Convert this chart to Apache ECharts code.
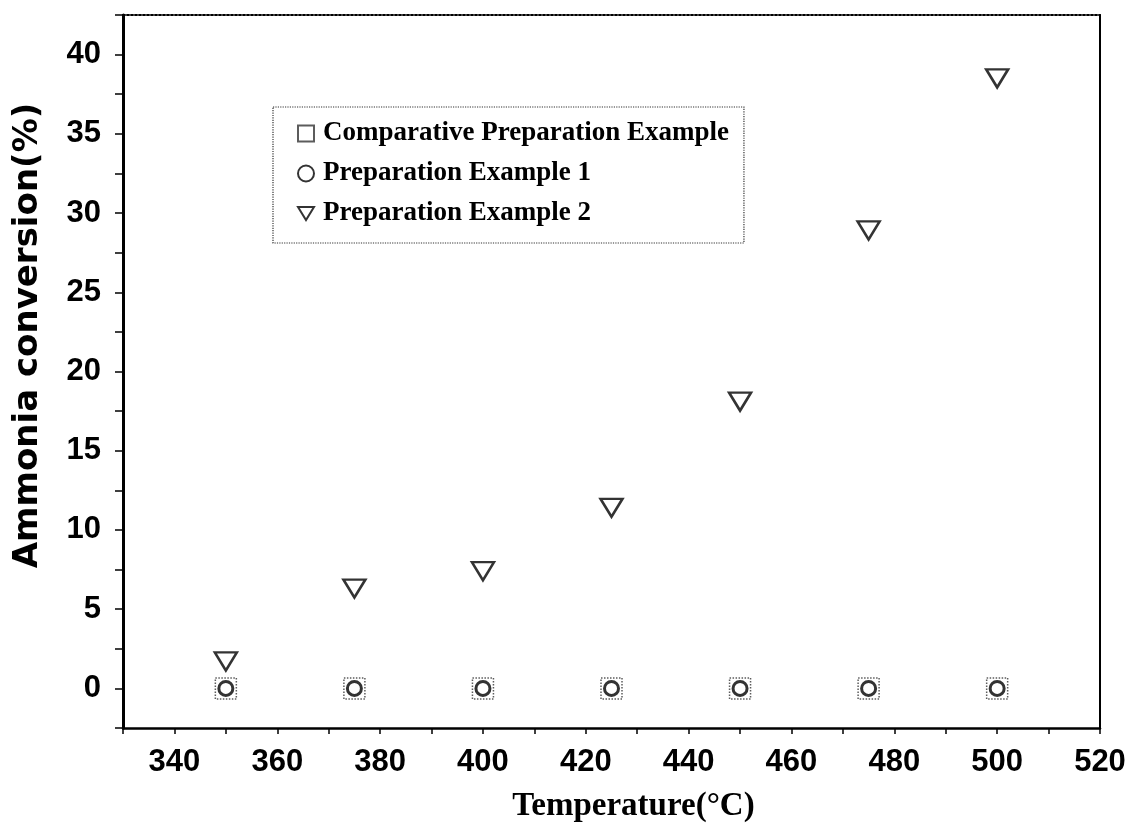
<!DOCTYPE html>
<html>
<head>
<meta charset="utf-8">
<script src="https://cdn.jsdelivr.net/npm/echarts@6/dist/echarts.min.js"></script>
<style>html,body{margin:0;padding:0;background:#fff;}#c{width:1132px;height:830px;}</style>
</head>
<body>
<div id="c"></div>
<script>
var temperatures = [350, 375, 400, 425, 450, 475, 500];
var comparative = [0, 0, 0, 0, 0, 0, 0];
var prep1 = [0, 0, 0, 0, 0, 0, 0];
var prep2 = [1.7, 6.3, 7.4, 11.4, 18.1, 28.9, 38.5];
var seriesNames = ['Comparative Preparation Example', 'Preparation Example 1', 'Preparation Example 2'];
var xLabelStep = 20, yLabelStep = 5;

function pairs(ys) { return temperatures.map(function (t, i) { return [t, ys[i]]; }); }
function isMult(v, s) { return Math.abs(v / s - Math.round(v / s)) < 1e-6; }

var chart = echarts.init(document.getElementById('c'));
var serif = '"Liberation Serif", "Times New Roman", serif';
var sans = '"Liberation Sans", Arial, sans-serif';
chart.setOption({
  animation: false,
  backgroundColor: '#fff',
  grid: { left: 123, right: 32, top: 15, bottom: 102 },
  legend: {
    orient: 'vertical',
    left: 273, top: 107,
    padding: [13, 15, 16, 24],
    borderColor: '#333', borderWidth: 1.2, borderType: 'dotted',
    itemWidth: 16, itemHeight: 16, itemGap: 13,
    textStyle: { fontFamily: serif, fontWeight: 'bold', fontSize: 27, color: '#000', padding: [0, 0, 0, 4] },
    data: seriesNames
  },
  xAxis: [{
    type: 'value', min: 330, max: 520, interval: 10,
    name: 'Temperature(°C)', nameLocation: 'middle', nameGap: 62,
    nameTextStyle: { fontFamily: serif, fontWeight: 'bold', fontSize: 33, color: '#000', padding: [0, 0, 0, 44] },
    axisLine: { onZero: false, lineStyle: { color: '#000', width: 2.5 } },
    axisTick: { length: 6, lineStyle: { color: '#000', width: 1.5 } },
    axisLabel: { margin: 19, fontFamily: sans, fontWeight: 'bold', fontSize: 31, color: '#000',
      formatter: function (v) { return isMult(v, xLabelStep) ? String(v) : ''; } },
    splitLine: { show: false }
  }, {
    type: 'value', position: 'top', min: 330, max: 520,
    axisLine: { show: true, onZero: false, lineStyle: { color: '#000', width: 2, type: 'dotted' } },
    axisTick: { show: false }, axisLabel: { show: false }, splitLine: { show: false }
  }],
  yAxis: [{
    type: 'value', min: -2.5, max: 42.5, interval: 2.5,
    name: 'Ammonia conversion(%)', nameLocation: 'middle', nameGap: 78,
    nameTextStyle: { fontFamily: '"DejaVu Sans", sans-serif', fontWeight: 'bold', fontSize: 34, color: '#000', padding: [0, 0, 0, 72] },
    axisLine: { show: true, onZero: false, lineStyle: { color: '#000', width: 3 } },
    axisTick: { length: 8, lineStyle: { color: '#000', width: 1.5 } },
    axisLabel: { margin: 22, fontFamily: sans, fontWeight: 'bold', fontSize: 31, color: '#000',
      formatter: function (v) { return isMult(v, yLabelStep) ? String(Math.round(v)) : ''; } },
    splitLine: { show: false }
  }, {
    type: 'value', position: 'right', min: -2.5, max: 42.5,
    axisLine: { show: true, onZero: false, lineStyle: { color: '#000', width: 2 } },
    axisTick: { show: false }, axisLabel: { show: false }, splitLine: { show: false }
  }],
  series: [{
    name: seriesNames[0], type: 'scatter', data: pairs(comparative),
    symbol: 'rect', symbolSize: 21,
    itemStyle: { color: 'rgba(255,255,255,0)', borderColor: '#333', borderWidth: 1.5, borderType: 'dotted' },
    z: 2
  }, {
    name: seriesNames[1], type: 'scatter', data: pairs(prep1),
    symbol: 'circle', symbolSize: 14,
    itemStyle: { color: 'rgba(255,255,255,0)', borderColor: '#000', borderWidth: 3 },
    z: 3
  }, {
    name: seriesNames[2], type: 'scatter', data: pairs(prep2),
    symbol: 'path://M0,0 L22,0 L11,18 Z', symbolSize: [22, 18],
    itemStyle: { color: '#fff', borderColor: '#000', borderWidth: 2.5 },
    z: 4
  }]
});
</script>
</body>
</html>
